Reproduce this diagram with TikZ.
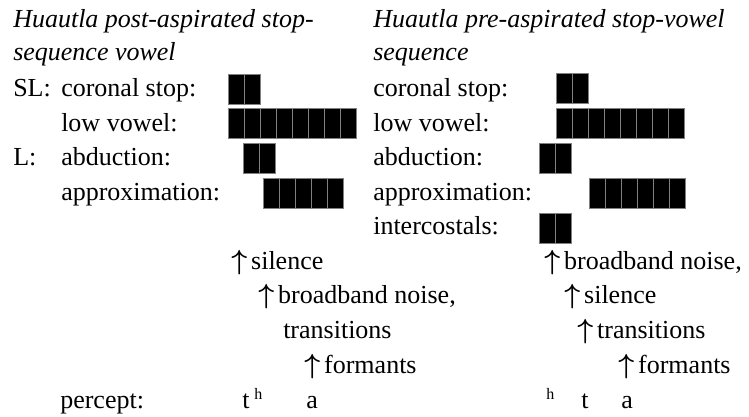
\documentclass[tikz,border=0pt]{standalone}
\usepackage{fontspec}
\usepackage{bm}
\setmainfont{Liberation Serif}
\usetikzlibrary{positioning}
\tikzstyle{lbl} = [ anchor=base west, inner sep=0pt, font=\fontsize{19.5}{23}\selectfont ]
\tikzstyle{head} = [ lbl, font=\fontsize{19.5}{23}\selectfont\itshape ]
\tikzstyle{supscr} = [ anchor=base west, inner sep=0pt, font=\fontsize{12}{14}\selectfont ]
\tikzstyle{cell} = [ rectangle, draw=gray, fill=black, line width=0.6pt, minimum width=12pt, minimum height=22.5pt, inner sep=0pt, anchor=north west ]
% one gesture bar: name, left, top, number of cells
\newcommand\gesture[4]{\foreach \i in {1,...,#4} {\node [cell] (#1\i) at ({#2+16*(\i-1)},#3) {};}}
\newcommand\upar{$\bm{\uparrow}$\hspace{3pt}}

\begin{document}
\begin{tikzpicture}[x=0.75pt, y=-0.75pt]
\useasboundingbox (0,0) rectangle (749,417);

% post-aspirated
\node [head] (posthead1) at (13,28) {Huautla post-aspirated stop-};
\node [head] (posthead2) at (13,61) {sequence vowel};
\node [lbl] (sl) at (13,97) {SL:};
\node [lbl] (postcor) at (61,97) {coronal stop:};
\node [lbl] (postvow) at (61,132) {low vowel:};
\node [lbl] (l) at (13,166) {L:};
\node [lbl] (postabd) at (61,166) {abduction:};
\node [lbl] (postapp) at (61,200) {approximation:};
\gesture{postcorbar}{228}{74}{2}
\gesture{postvowbar}{228}{108}{8}
\gesture{postabdbar}{243}{143}{2}
\gesture{postappbar}{263}{178}{5}
\node [lbl] (postsil) at (231,269) {\upar silence};
\node [lbl] (postnoise) at (258,303) {\upar broadband noise,};
\node [lbl] (posttrans) at (283,338) {transitions};
\node [lbl] (postform) at (304,373) {\upar formants};
\node [lbl] (percept) at (60,408) {percept:};
\node [lbl] (postt) at (242,408) {t};
\node [supscr] (posth) at (254,399) {h};
\node [lbl] (posta) at (306,408) {a};

% pre-aspirated
\node [head] (prehead1) at (373,28) {Huautla pre-aspirated stop-vowel};
\node [head] (prehead2) at (373,61) {sequence};
\node [lbl] (precor) at (373,97) {coronal stop:};
\node [lbl] (prevow) at (373,132) {low vowel:};
\node [lbl] (preabd) at (373,166) {abduction:};
\node [lbl] (preapp) at (373,200) {approximation:};
\node [lbl] (preint) at (373,234) {intercostals:};
\gesture{precorbar}{556}{73}{2}
\gesture{prevowbar}{556}{108}{8}
\gesture{preabdbar}{539}{143}{2}
\gesture{preappbar}{589}{178}{6}
\gesture{preintbar}{539}{213}{2}
\node [lbl] (prenoise) at (544,269) {\upar broadband noise,};
\node [lbl] (presil) at (564,303) {\upar silence};
\node [lbl] (pretrans) at (577,338) {\upar transitions};
\node [lbl] (preform) at (618,373) {\upar formants};
\node [supscr] (preh) at (546,399) {h};
\node [lbl] (pret) at (581,408) {t};
\node [lbl] (prea) at (621,408) {a};
\end{tikzpicture}
\end{document}
